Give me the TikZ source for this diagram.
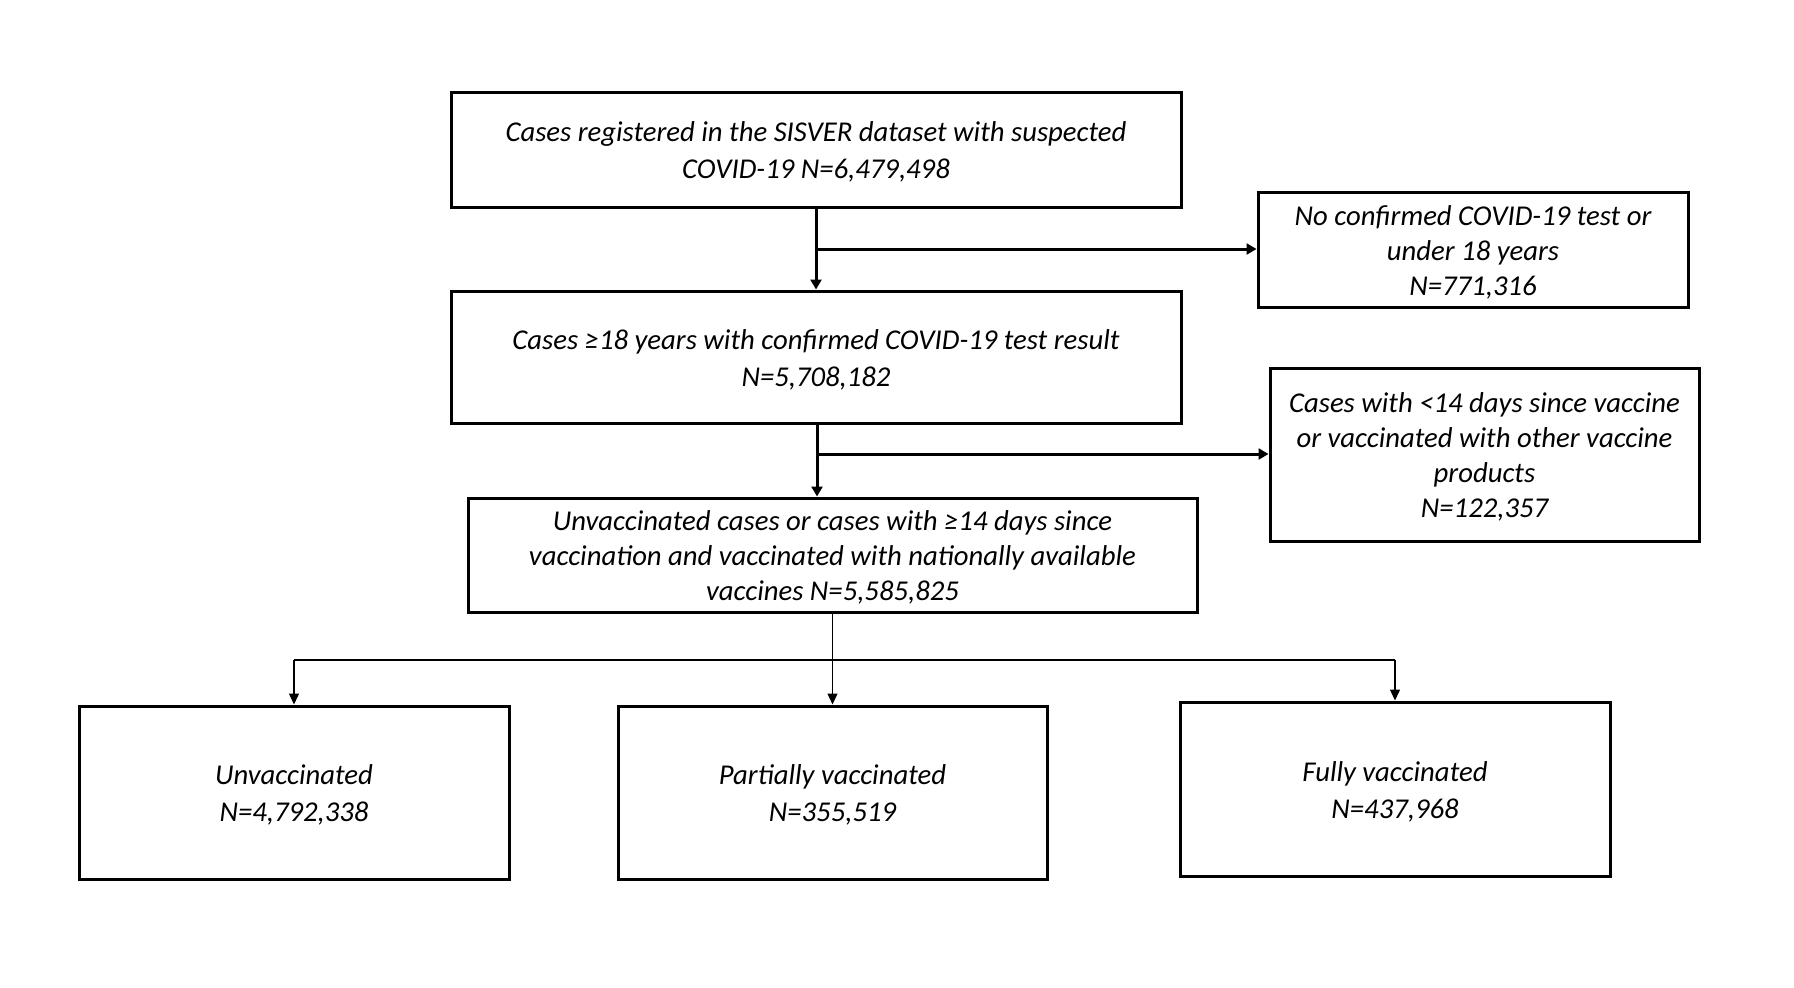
\documentclass[tikz,border=0pt]{standalone}
\usepackage{fontspec}
\setmainfont{Carlito}
\usetikzlibrary{arrows.meta}
\begin{document}
\begin{tikzpicture}[x=1pt,y=-1pt,
  boxframe/.style={draw, line width=3pt, inner sep=0pt},
  boxtext/.style={inner sep=0pt, align=center,
    font=\fontsize{28.7}{35}\selectfont\itshape},
  widetext/.style={inner sep=0pt, align=center,
    font=\fontsize{28.7}{37}\selectfont\itshape},
  thickarrow/.style={line width=3pt, -{Triangle[width=11pt,length=10pt]}},
  thinline/.style={line width=1.3pt},
  thinarrow/.style={line width=1.3pt, -{Triangle[width=10pt,length=11pt]}}]
\useasboundingbox (0,0) rectangle (1794,988);
\fill[white] (0,0) rectangle (1794,988);

\node[boxframe, minimum width=730pt, minimum height=115pt] (b1) at (816,149.5) {};
\node[boxframe, minimum width=430pt, minimum height=115pt] (b2) at (1473,249.5) {};
\node[boxframe, minimum width=730pt, minimum height=132pt] (b3) at (816,357) {};
\node[boxframe, minimum width=429pt, minimum height=173pt] (b4) at (1484.5,454.5) {};
\node[boxframe, minimum width=729pt, minimum height=114pt] (b5) at (832.5,555) {};
\node[boxframe, minimum width=430pt, minimum height=173pt] (b6) at (294,792.5) {};
\node[boxframe, minimum width=429pt, minimum height=173pt] (b7) at (832.5,792.5) {};
\node[boxframe, minimum width=430pt, minimum height=174pt] (b8) at (1395,789) {};

\node[widetext] (t1) at ([yshift=-2.5pt]b1.center)
  {Cases registered in the SISVER dataset with suspected\\COVID-19 N=6,479,498};
\node[boxtext] (t2) at ([yshift=-2.5pt]b2.center)
  {No confirmed COVID-19 test or\\under 18 years\\N=771,316};
\node[widetext] (t3) at ([yshift=-2.5pt]b3.center)
  {Cases ≥18 years with confirmed COVID-19 test result\\N=5,708,182};
\node[boxtext] (t4) at ([yshift=-2.5pt]b4.center)
  {Cases with <14 days since vaccine\\or vaccinated with other vaccine\\products\\N=122,357};
\node[boxtext] (t5) at ([yshift=-2.5pt]b5.center)
  {Unvaccinated cases or cases with ≥14 days since\\vaccination and vaccinated with nationally available\\vaccines N=5,585,825};
\node[widetext] (t6) at ([yshift=-2.5pt]b6.center)
  {Unvaccinated\\N=4,792,338};
\node[widetext] (t7) at ([yshift=-2.5pt]b7.center)
  {Partially vaccinated\\N=355,519};
\node[widetext] (t8) at ([yshift=-2.5pt]b8.center)
  {Fully vaccinated\\N=437,968};

\coordinate (j1) at (816,249);
\coordinate (j2) at (817,454);
\coordinate (t) at (832.5,660);

\draw[thickarrow] (b1.south) -- (b1.south |- b3.north);
\draw[thickarrow] (j1) -- (j1 -| b2.west);
\draw[thickarrow] (j2 |- b3.south) -- (j2 |- b5.north);
\draw[thickarrow] (j2) -- (j2 -| b4.west);

\draw[thinline] (b5.south) -- (t);
\draw[thinline] (b6.north |- t) -- (b8.north |- t);
\draw[thinarrow] (b6.north |- t) -- (b6.north);
\draw[thinarrow] (t) -- (b7.north);
\draw[thinarrow] (b8.north |- t) -- (b8.north);
\end{tikzpicture}
\end{document}
